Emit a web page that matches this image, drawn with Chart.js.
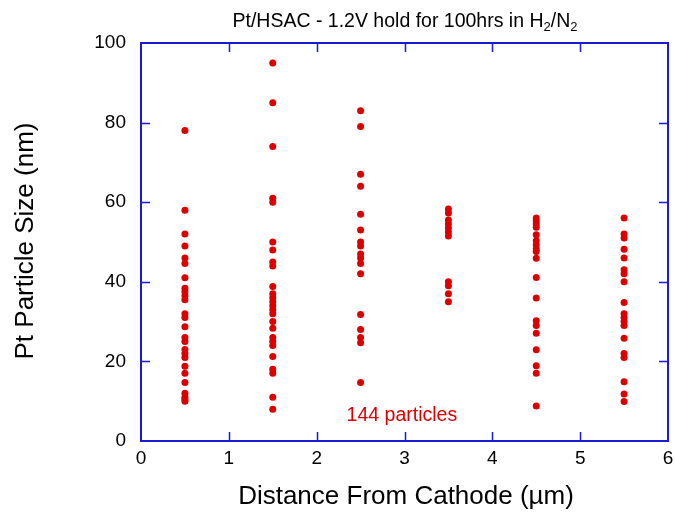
<!DOCTYPE html>
<html>
<head>
<meta charset="utf-8">
<script src="https://cdn.jsdelivr.net/npm/chart.js@4"></script>
<style>
  html, body { margin: 0; padding: 0; background: #fff; }
  #wrap { width: 675px; height: 512px; }
</style>
</head>
<body>
<div id="wrap"><canvas id="chart" width="675" height="512"></canvas></div>
<script>
// particle sizes (nm) measured at each distance band
const positions = [0.5, 1.5, 2.5, 3.5, 4.5, 5.5];
const sizesAt05 = [78, 58, 52, 49, 46, 44.6, 41, 38.4, 37.5, 36.5, 35.5, 32, 31, 28.7, 26, 25, 23, 22, 21, 18.8, 17, 14.7, 12, 11, 10.5, 10];
const sizesAt15 = [95, 85, 74, 61, 60, 50, 48, 45, 44, 38.8, 37, 36, 35, 34, 33, 32, 30, 28.3, 26, 25, 24, 21.2, 18, 17, 11, 8];
const sizesAt25 = [83, 79, 67, 64, 57, 53, 50, 49, 47, 46, 44.6, 42, 31.8, 28, 26, 24.7, 14.7];
const sizesAt35 = [58.3, 57.3, 55.5, 54.5, 53.5, 52.5, 51.5, 40, 39, 37, 35];
const sizesAt45 = [56, 55.3, 54.5, 53.7, 51.8, 50.3, 49.3, 48.3, 47.6, 45.9, 41.1, 35.9, 30.2, 29, 27.1, 22.9, 18.9, 17, 8.8];
const sizesAt55 = [56, 52, 51, 48.2, 46, 43, 42, 40, 34.8, 32, 31, 30, 29, 25.8, 22, 21, 14.9, 11.8, 9.9];
const xTicks = [0, 1, 2, 3, 4, 5, 6];
const yTicks = [0, 20, 40, 60, 80, 100];

const allSizes = [sizesAt05, sizesAt15, sizesAt25, sizesAt35, sizesAt45, sizesAt55];
const points = [];
allSizes.forEach((list, i) => {
    list.forEach(v => points.push({ x: positions[i], y: v }));
});

const BLUE = '#1a1ad6';
const RED = '#dd0000';
const FONT = '"Liberation Sans", Arial, sans-serif';

// box, inward ticks, titles and note
const decor = {
    id: 'decor',
    afterDraw(chart) {
        const ctx = chart.ctx;
        const a = chart.chartArea;
        const xs = chart.scales.x;
        const ys = chart.scales.y;
        ctx.save();
        ctx.strokeStyle = BLUE;
        ctx.lineWidth = 2;
        ctx.strokeRect(a.left, a.top, a.right - a.left, a.bottom - a.top);
        ctx.lineWidth = 1.5;
        ctx.beginPath();
        xTicks.slice(1, -1).forEach(t => {
            const px = Math.round(xs.getPixelForValue(t)) + 0.5;
            ctx.moveTo(px, a.bottom); ctx.lineTo(px, a.bottom - 9);
            ctx.moveTo(px, a.top); ctx.lineTo(px, a.top + 9);
        });
        yTicks.slice(1, -1).forEach(t => {
            const py = Math.round(ys.getPixelForValue(t)) + 0.5;
            ctx.moveTo(a.left, py); ctx.lineTo(a.left + 9, py);
            ctx.moveTo(a.right, py); ctx.lineTo(a.right - 9, py);
        });
        ctx.stroke();

        // tick labels
        ctx.fillStyle = '#000';
        ctx.font = '19px ' + FONT;
        ctx.textAlign = 'center';
        ctx.textBaseline = 'middle';
        xTicks.forEach(t => ctx.fillText(String(t), xs.getPixelForValue(t), a.bottom + 18));
        ctx.textAlign = 'right';
        yTicks.forEach(t => ctx.fillText(String(t), a.left - 15, ys.getPixelForValue(t)));

        // axis titles
        ctx.font = '26px ' + FONT;
        ctx.textAlign = 'center';
        ctx.textBaseline = 'alphabetic';
        ctx.fillText('Distance From Cathode (\u00b5m)', 406, 504);
        ctx.save();
        ctx.translate(33, 241);
        ctx.rotate(-Math.PI / 2);
        ctx.fillText('Pt Particle Size (nm)', 0, 0);
        ctx.restore();

        // title with subscripts
        const parts = [
            ['Pt/HSAC - 1.2V hold for 100hrs in H', false],
            ['2', true], ['/N', false], ['2', true]
        ];
        const big = '19.5px ' + FONT, small = '13px ' + FONT;
        let w = 0;
        parts.forEach(p => { ctx.font = p[1] ? small : big; w += ctx.measureText(p[0]).width; });
        let x = 405 - w / 2;
        ctx.textAlign = 'left';
        parts.forEach(p => {
            ctx.font = p[1] ? small : big;
            ctx.fillText(p[0], x, p[1] ? 31 : 27);
            x += ctx.measureText(p[0]).width;
        });

        // particle count note
        ctx.fillStyle = RED;
        ctx.font = '19.5px ' + FONT;
        ctx.textAlign = 'center';
        ctx.textBaseline = 'middle';
        ctx.fillText('144 particles', xs.getPixelForValue(2.97), ys.getPixelForValue(6.5));
        ctx.restore();
    }
};

new Chart(document.getElementById('chart').getContext('2d'), {
    type: 'scatter',
    data: {
        datasets: [{
            data: points,
            backgroundColor: RED,
            borderColor: RED,
            pointRadius: 3.5,
            pointHoverRadius: 3.5,
            borderWidth: 0
        }]
    },
    options: {
        responsive: false,
        animation: false,
        layout: { padding: { top: 43, right: 7, left: 0, bottom: 0 } },
        plugins: { legend: { display: false }, tooltip: { enabled: false } },
        scales: {
            x: {
                type: 'linear', min: 0, max: 6,
                grid: { display: false, drawTicks: false },
                border: { display: false },
                ticks: { display: false },
                afterFit(s) { s.height = 71; }
            },
            y: {
                type: 'linear', min: 0, max: 100,
                grid: { display: false, drawTicks: false },
                border: { display: false },
                ticks: { display: false },
                afterFit(s) { s.width = 141; }
            }
        }
    },
    plugins: [decor]
});
</script>
</body>
</html>
